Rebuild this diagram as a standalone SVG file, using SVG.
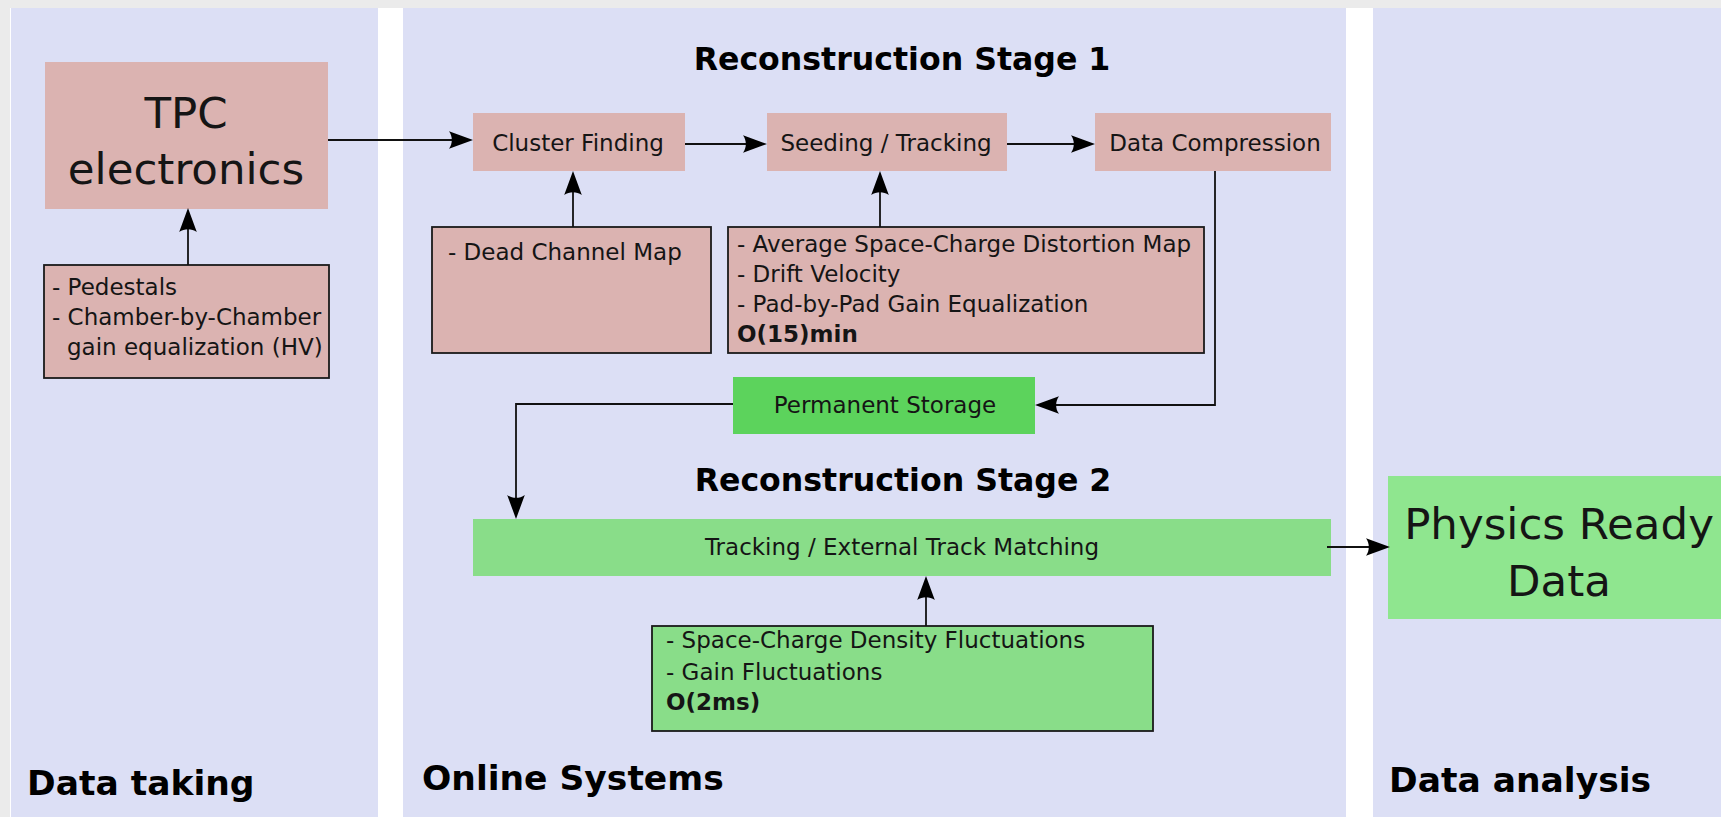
<svg xmlns="http://www.w3.org/2000/svg" width="1721" height="817" viewBox="0 0 1721 817">
<style>
  .panel { fill: #dcdff5; }
  .pink { fill: #dbb3b1; }
  .pinkb { fill: #dbb3b1; stroke: #1a1a1a; stroke-width: 1.8; }
  .greenb { fill: #89dd89; stroke: #1a1a1a; stroke-width: 1.8; }
  .t { font-family: "DejaVu Sans", "Liberation Sans", sans-serif; font-size: 23px; fill: #151515; }
  .b { font-weight: bold; }
  .big { font-size: 43.5px; }
  .title { font-family: "DejaVu Sans", "Liberation Sans", sans-serif; font-weight: bold; font-size: 31.6px; fill: #000; }
  .lane { font-family: "DejaVu Sans", "Liberation Sans", sans-serif; font-weight: bold; font-size: 34.5px; fill: #000; }
  .c { text-anchor: middle; }
  .conn { fill: none; stroke: #111; stroke-width: 1.8; marker-end: url(#arr); }
</style>
<defs>
  <marker id="arr" viewBox="0 -10 26 20" refX="15" refY="0" markerWidth="26" markerHeight="20" markerUnits="userSpaceOnUse" orient="auto">
    <path d="M25,0 L1,-8.8 C4.8,-3.6 4.8,3.6 1,8.8 Z" fill="#000"/>
  </marker>
</defs>
<rect x="0" y="0" width="1721" height="817" fill="#ebebeb"/>
<rect x="10" y="8" width="1711" height="809" fill="#ffffff"/>
<rect class="panel" x="11" y="8" width="367" height="809"/>
<rect class="panel" x="403" y="8" width="943" height="809"/>
<rect class="panel" x="1373" y="8" width="348" height="809"/>

<text class="lane" x="27" y="795">Data taking</text>
<text class="lane" x="422" y="790">Online Systems</text>
<text class="lane" x="1389" y="792">Data analysis</text>
<text class="title c" x="902" y="70">Reconstruction Stage 1</text>
<text class="title c" x="903" y="491">Reconstruction Stage 2</text>

<g id="tpc">
  <rect class="pink" x="45" y="62" width="283" height="147"/>
  <text class="t big c" x="186" y="128">TPC</text>
  <text class="t big c" x="186" y="184">electronics</text>
</g>
<g id="tpc-calib">
  <rect class="pinkb" x="44" y="265" width="285" height="113"/>
  <text class="t" x="52" y="295">- Pedestals</text>
  <text class="t" x="52" y="325">- Chamber-by-Chamber</text>
  <text class="t" x="67" y="355">gain equalization (HV)</text>
</g>
<g id="cluster">
  <rect class="pink" x="473" y="113" width="212" height="58"/>
  <text class="t c" x="578" y="151">Cluster Finding</text>
</g>
<g id="seeding">
  <rect class="pink" x="767" y="113" width="240" height="58"/>
  <text class="t c" x="886" y="151">Seeding / Tracking</text>
</g>
<g id="compression">
  <rect class="pink" x="1095" y="113" width="236" height="58"/>
  <text class="t c" x="1215" y="151">Data Compression</text>
</g>
<g id="dead-channel">
  <rect class="pinkb" x="432" y="227" width="279" height="126"/>
  <text class="t" x="448" y="260">- Dead Channel Map</text>
</g>
<g id="seeding-calib">
  <rect class="pinkb" x="728" y="227" width="476" height="126"/>
  <text class="t" x="737" y="252">- Average Space-Charge Distortion Map</text>
  <text class="t" x="737" y="282">- Drift Velocity</text>
  <text class="t" x="737" y="312">- Pad-by-Pad Gain Equalization</text>
  <text class="t b" x="737" y="342">O(15)min</text>
</g>
<g id="storage">
  <rect x="733" y="377" width="302" height="57" fill="#5cd35c"/>
  <text class="t c" x="885" y="413">Permanent Storage</text>
</g>
<g id="stage2">
  <rect x="473" y="519" width="858" height="57" fill="#89dd89"/>
  <text class="t c" x="902" y="555">Tracking / External Track Matching</text>
</g>
<g id="stage2-calib">
  <rect class="greenb" x="652" y="626" width="501" height="105"/>
  <text class="t" x="666" y="648">- Space-Charge Density Fluctuations</text>
  <text class="t" x="666" y="680">- Gain Fluctuations</text>
  <text class="t b" x="666" y="710">O(2ms)</text>
</g>
<g id="physics">
  <rect x="1388" y="476" width="333" height="143" fill="#8fe68f"/>
  <text class="t big c" x="1559" y="539">Physics Ready</text>
  <text class="t big c" x="1559" y="596">Data</text>
</g>

<g id="connectors">
  <path class="conn" d="M328,140 H463"/>
  <path class="conn" d="M685,144 H757"/>
  <path class="conn" d="M1007,144 H1085"/>
  <path class="conn" d="M188,265 V218"/>
  <path class="conn" d="M573,227 V181"/>
  <path class="conn" d="M880,227 V181"/>
  <path class="conn" d="M1215,171 V405 H1045"/>
  <path class="conn" d="M733,404 H516 V509"/>
  <path class="conn" d="M926,626 V586"/>
  <path class="conn" d="M1327,547 H1380"/>
</g>
</svg>
